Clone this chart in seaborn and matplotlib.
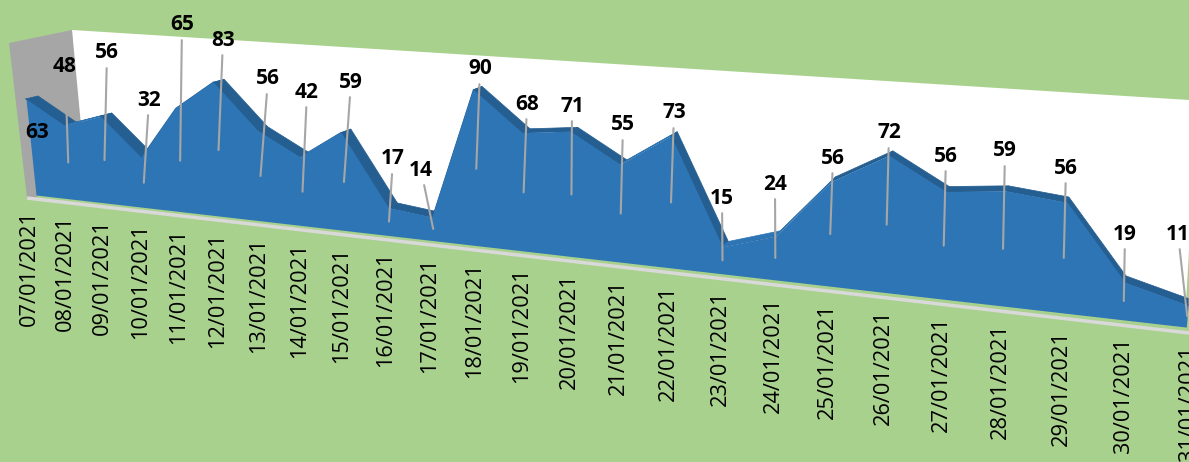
import matplotlib
matplotlib.use("Agg")
import matplotlib.pyplot as plt
import matplotlib.transforms as mtransforms
import numpy as np
import seaborn as sns

dates = ["07/01/2021", "08/01/2021", "09/01/2021", "10/01/2021", "11/01/2021",
         "12/01/2021", "13/01/2021", "14/01/2021", "15/01/2021", "16/01/2021",
         "17/01/2021", "18/01/2021", "19/01/2021", "20/01/2021", "21/01/2021",
         "22/01/2021", "23/01/2021", "24/01/2021", "25/01/2021", "26/01/2021",
         "27/01/2021", "28/01/2021", "29/01/2021", "30/01/2021", "31/01/2021"]
values = [63, 48, 56, 32, 65, 83, 56, 42, 59, 17, 14, 90, 68,
          71, 55, 73, 15, 24, 56, 72, 56, 59, 56, 19, 11]

# where Excel left the data labels, in image pixels
label_x = [37, 65, 107, 149, 182, 223, 268, 307, 351, 393, 421, 480, 527,
           572, 623, 674, 722, 775, 833, 889, 946, 1005, 1066, 1125, 1178]
label_y = [132, 66, 53, 100, 25, 40, 79, 92, 82, 159, 170, 69, 104,
           106, 125, 113, 198, 184, 158, 133, 156, 151, 168, 234, 234]

# rising segments whose top face catches the light
lit_segments = [1, 3, 4, 7, 10, 14, 16, 17]

GREEN = "#A9D18E"
BLUE = "#2E75B6"
DARK_BLUE = "#255E91"
GREY = "#A6A6A6"
FLOOR = "#D9D9D9"

sns.set_theme(style="white", rc={"axes.facecolor": GREEN, "figure.facecolor": GREEN})
plt.rcParams["font.family"] = ["Open Sans", "DejaVu Sans"]

# camera of the 3D chart: (day index, value, depth) -> image pixels
CAMERA = np.array([
    [35.07, -0.165, 12.2, 36.0],
    [1.958, -1.55, -1.88, 195.0],
    [-0.01084, -0.00024, 0.0102, 1.0],
])


class Projection(mtransforms.Transform):
    input_dims = 2
    output_dims = 2
    is_separable = False
    has_inverse = False

    def __init__(self, plane=0.0):
        super().__init__()
        self.plane = plane

    def transform_non_affine(self, values):
        pts = np.asarray(values, dtype=float)
        full = np.column_stack([pts, np.full(len(pts), self.plane), np.ones(len(pts))])
        out = full @ CAMERA.T
        return out[:, :2] / out[:, 2:3]


fig, ax = plt.subplots(figsize=(11.89, 4.62), dpi=100)
fig.subplots_adjust(0, 0, 1, 1)
ax.set_xlim(0, 1189)
ax.set_ylim(462, 0)
ax.axis("off")
fig.patch.set_facecolor(GREEN)

front = Projection(0.0) + ax.transData
tick_plane = Projection(-0.7) + ax.transData

days = np.arange(len(values))
vals = np.array(values, dtype=float)

# walls and floor edge
ax.fill([72, 1189, 1189, 1185, 80], [30, 100, 250, 320, 200], color="white", lw=0, zorder=0.5)
ax.fill([9, 72, 81, 37, 27], [43, 30, 125, 197, 198], color=GREY, lw=0, zorder=0.6)
ax.plot([27, 1189], [198, 333], color=FLOOR, lw=2.5, solid_capstyle="butt", zorder=0.7)

# line under the seam between top faces and front face, so white does not bleed through
sns.lineplot(x=days, y=vals, color=DARK_BLUE, lw=1, errorbar=None, ax=ax, transform=front, zorder=0.9)

# top faces of the area, from front edge to back edge
for i in days[:-1]:
    a = Projection(0.0).transform([(i, vals[i]), (i + 1, vals[i + 1])])
    b = Projection(1.0).transform([(i + 1, vals[i + 1]), (i, vals[i])])
    quad = np.vstack([a, b])
    ax.fill(quad[:, 0], quad[:, 1], color=BLUE if i in lit_segments else DARK_BLUE, lw=0.5, zorder=1)

# front face
ax.fill_between(days, 0, vals, color=BLUE, lw=0, transform=front, zorder=1.5)
ax.set_xlim(0, 1189)
ax.set_ylim(462, 0)

# date labels
for i, d in enumerate(dates):
    ax.annotate(d, xy=(i, 0), xycoords=tick_plane, xytext=(2, -13), textcoords="offset pixels",
                rotation=90, ha="center", va="top", fontsize=15.7, color="black",
                annotation_clip=False)

# data labels with leader lines down to the middle of the area
for i, v in enumerate(values):
    arrow = None
    if i > 0:
        arrow = dict(arrowstyle="-", color=GREY, lw=1.5, shrinkA=1, shrinkB=0)
    ax.annotate(str(v), xy=(i, v / 2), xycoords=front, xytext=(label_x[i], label_y[i]),
                textcoords="data", ha="center", va="center", fontsize=15,
                fontweight="bold", color="black", arrowprops=arrow, zorder=5)

fig.savefig("out.png", dpi=100, facecolor=GREEN)
